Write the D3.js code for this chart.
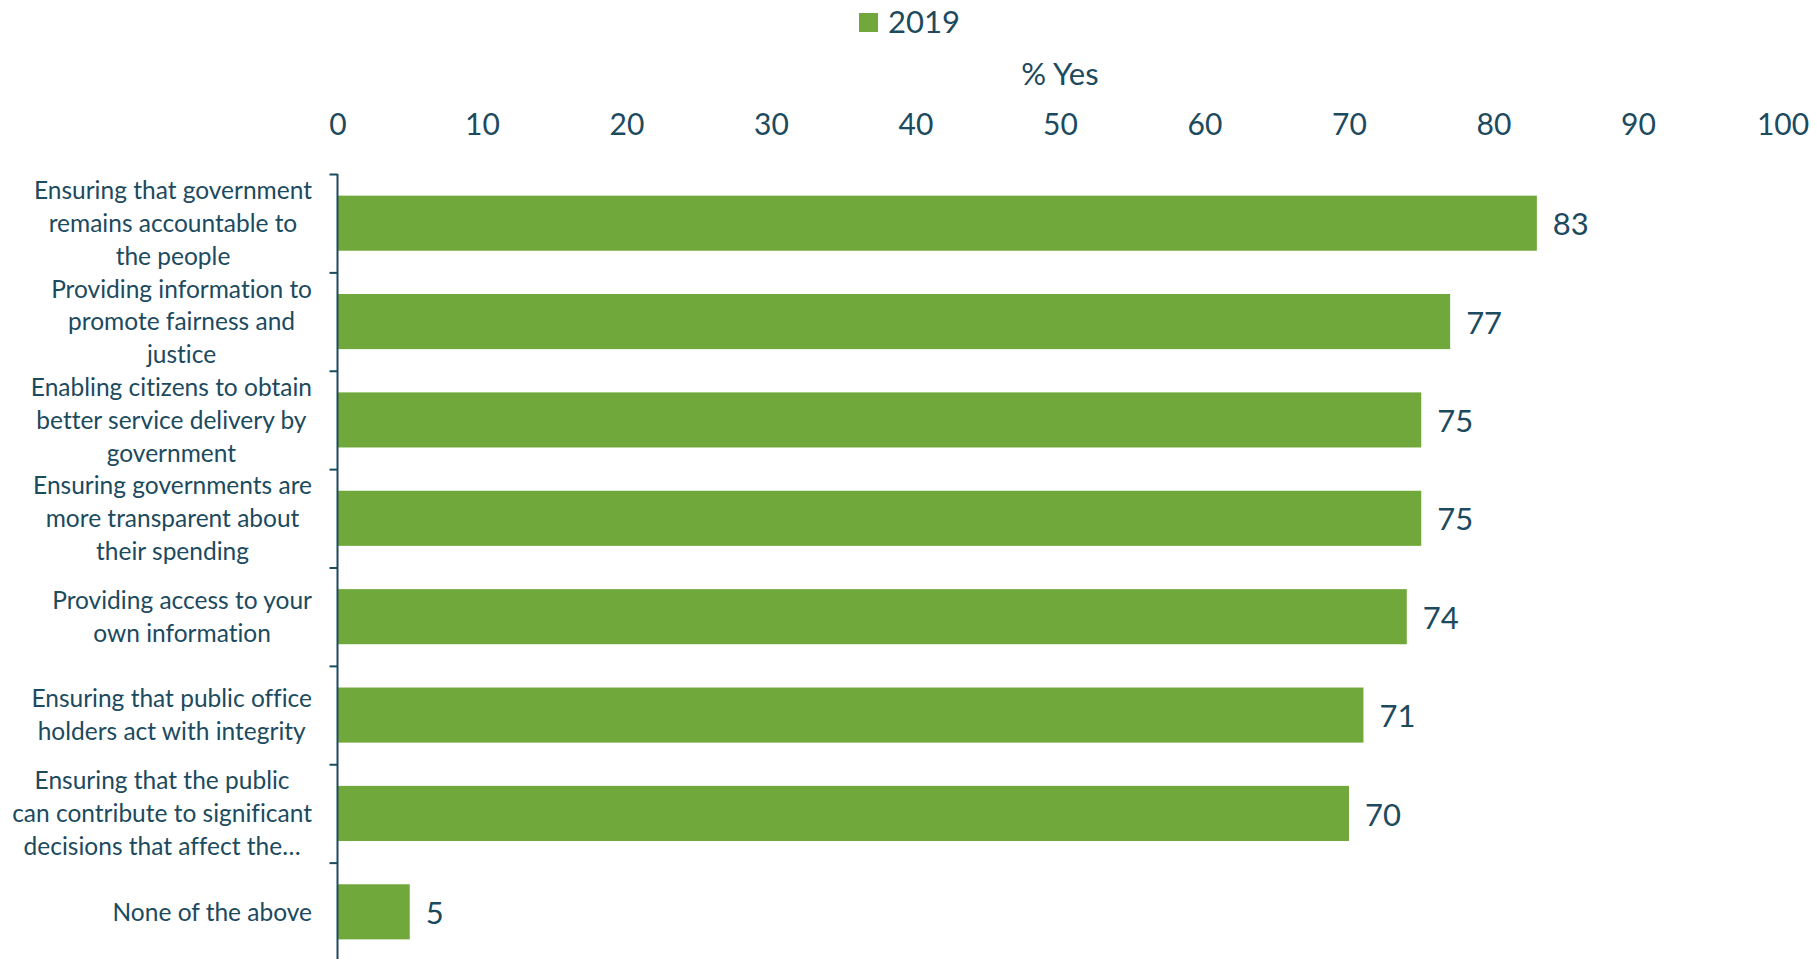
<!DOCTYPE html>
<html>
<head>
<meta charset="utf-8">
<script src="https://cdn.jsdelivr.net/npm/d3@7"></script>
<style>
  html, body { margin: 0; padding: 0; background: #fff; }
  svg { display: block; font-family: Lato, "Open Sans", sans-serif; font-variant-ligatures: none; }
</style>
</head>
<body>
<svg id="chart" width="1817" height="959"></svg>
<script>
const categories = [
  ["Ensuring that government", "remains accountable to", "the people"],
  ["Providing information to", "promote fairness and", "justice"],
  ["Enabling citizens to obtain", "better service delivery by", "government"],
  ["Ensuring governments are", "more transparent about", "their spending"],
  ["Providing access to your", "own information"],
  ["Ensuring that public office", "holders act with integrity"],
  ["Ensuring that the public", "can contribute to significant", "decisions that affect the\u2026"],
  ["None of the above"]
];
const values2019 = [83, 77, 75, 75, 74, 71, 70, 5];
const xTicks = [0, 10, 20, 30, 40, 50, 60, 70, 80, 90, 100];
const seriesName = "2019";
const axisTitle = "% Yes";

const textColor = "#1c4a5e";
const barColor = "#71a83b";

const svg = d3.select("#chart");
const plotLeft = 337.5, plotRight = 1782.5, plotTop = 174, plotBottom = 961;

const x = d3.scaleLinear().domain([0, 100]).range([plotLeft, plotRight]);
const y = d3.scaleBand().domain(d3.range(categories.length)).range([plotTop, plotBottom])
  .paddingInner(0.44).paddingOuter(0.22);

// bars
svg.append("g").selectAll("rect").data(values2019).join("rect")
  .attr("x", x(0))
  .attr("y", (d, i) => y(i))
  .attr("width", d => x(d) - x(0))
  .attr("height", y.bandwidth())
  .attr("fill", barColor);

// value labels
svg.append("g").selectAll("text").data(values2019).join("text")
  .attr("x", d => x(d) + 16)
  .attr("y", (d, i) => y(i) + y.bandwidth() / 2 + 1)
  .attr("dy", "0.36em")
  .attr("fill", textColor)
  .attr("font-size", 31)
  .text(d => d);

// top axis (labels only)
const xAxis = svg.append("g").attr("transform", `translate(0,${124})`)
  .call(d3.axisTop(x).tickValues(xTicks).tickSize(0).tickPadding(0));
xAxis.select(".domain").remove();
xAxis.selectAll("text").attr("fill", textColor).attr("font-size", 30)
  .attr("font-family", "Lato, 'Open Sans', sans-serif").attr("dy", "0.36em").attr("y", 0);

// left axis: line + ticks at band edges
const yEdge = d3.scaleLinear().domain([0, categories.length]).range([plotTop, plotBottom]);
const yAxis = svg.append("g").attr("transform", `translate(${plotLeft},0)`)
  .call(d3.axisLeft(yEdge).tickValues(d3.range(categories.length + 1)).tickSize(8).tickSizeOuter(0).tickFormat(""));
yAxis.select(".domain").attr("stroke", textColor).attr("stroke-width", 2).attr("d", `M0,${plotTop}V959`);
yAxis.selectAll(".tick line").attr("stroke", textColor).attr("stroke-width", 2);

// category labels
const labelRight = 312, lineH = 32.8;
const lg = svg.append("g").attr("fill", textColor).attr("font-size", 24.5);
categories.forEach((lines, i) => {
  const cy = y(i) + y.bandwidth() / 2;
  const g = lg.append("g");
  const texts = g.selectAll("text").data(lines).join("text")
    .attr("text-anchor", "middle")
    .attr("y", (d, j) => cy + (j - (lines.length - 1) / 2) * lineH)
    .attr("dy", "0.36em")
    .text(d => d);
  let maxW = 0;
  texts.each(function() { maxW = Math.max(maxW, this.getComputedTextLength()); });
  texts.attr("x", labelRight - maxW / 2);
});

// legend
const legend = svg.append("g");
legend.append("rect").attr("x", 859).attr("y", 13).attr("width", 19).attr("height", 19).attr("fill", barColor);
legend.append("text").attr("x", 888).attr("y", 22).attr("dy", "0.36em")
  .attr("fill", textColor).attr("font-size", 31).text(seriesName);

// axis title
svg.append("text").attr("x", (plotLeft + plotRight) / 2).attr("y", 74).attr("dy", "0.36em")
  .attr("text-anchor", "middle").attr("fill", textColor).attr("font-size", 31).text(axisTitle);
</script>
</body>
</html>
